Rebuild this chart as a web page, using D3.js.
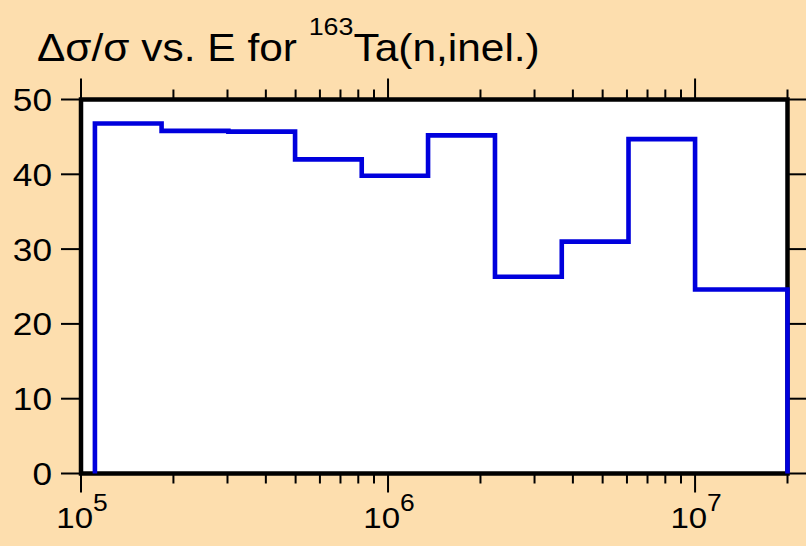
<!DOCTYPE html>
<html>
<head>
<meta charset="utf-8">
<script src="https://cdn.jsdelivr.net/npm/d3@7"></script>
<style>
  body { margin: 0; background: #fddeae; }
  text { font-family: "Liberation Sans", Arial, sans-serif; fill: #000; }
</style>
</head>
<body>
<div id="canvas"></div>
<script>
"use strict"

// bin edges (eV) and relative uncertainty (%) per bin
let binEdges = [1.11e5, 1.83e5, 3.02e5, 4.98e5, 8.21e5, 1.35e6, 2.23e6, 3.68e6, 6.07e6, 1.0e7, 2.0e7]
let binValues = [46.8, 45.8, 45.7, 42.0, 39.8, 45.2, 26.3, 31.0, 44.7, 24.6]

let yTicks = [0, 10, 20, 30, 40, 50]
let xMajorExps = [5, 6, 7]

let width = 806
let height = 546
let plotLeft = 81, plotRight = 787.5, plotTop = 99.5, plotBottom = 473.5
let stretch = 1.1 // text in the original is a little wide

let drawing = d3.select("#canvas")
    .append("svg")
    .attr("width", width)
    .attr("height", height)

drawing.append("rect") // page background
    .attr("width", width)
    .attr("height", height)
    .attr("fill", "#fddeae")

let x = d3.scaleLog().domain([1e5, 2e7]).range([plotLeft, plotRight])
let y = d3.scaleLinear().domain([0, 50]).range([plotBottom, plotTop])

// plot area
drawing.append("rect")
    .attr("x", plotLeft)
    .attr("y", plotTop)
    .attr("width", plotRight - plotLeft)
    .attr("height", plotBottom - plotTop)
    .attr("fill", "white")

// minor ticks for log axis
let minorTicks = []
for (let e = 5; e <= 7; e++) {
    for (let m = 2; m <= 9; m++) {
        let v = m * Math.pow(10, e)
        if (v <= 2e7) minorTicks.push(v)
    }
}
let majorTicks = xMajorExps.map(e => Math.pow(10, e))

// bottom axis ticks (down), top axis ticks (up)
let tickGroup = drawing.append("g").attr("stroke", "black").attr("stroke-width", 2)
minorTicks.forEach(v => {
    tickGroup.append("line").attr("x1", x(v)).attr("x2", x(v)).attr("y1", plotBottom).attr("y2", plotBottom + 10)
    tickGroup.append("line").attr("x1", x(v)).attr("x2", x(v)).attr("y1", plotTop).attr("y2", plotTop - 10)
})
majorTicks.forEach(v => {
    tickGroup.append("line").attr("x1", x(v)).attr("x2", x(v)).attr("y1", plotBottom).attr("y2", plotBottom + 19)
    tickGroup.append("line").attr("x1", x(v)).attr("x2", x(v)).attr("y1", plotTop).attr("y2", plotTop - 21)
})
// y ticks on left (out) and right (out)
yTicks.forEach(v => {
    tickGroup.append("line").attr("x1", plotLeft - 20).attr("x2", plotLeft).attr("y1", y(v)).attr("y2", y(v))
    tickGroup.append("line").attr("x1", plotRight).attr("x2", plotRight + 20).attr("y1", y(v)).attr("y2", y(v))
})

// frame
drawing.append("rect")
    .attr("x", plotLeft)
    .attr("y", plotTop)
    .attr("width", plotRight - plotLeft)
    .attr("height", plotBottom - plotTop)
    .attr("fill", "none")
    .attr("stroke", "black")
    .attr("stroke-width", 4.5)

// y labels
yTicks.forEach(v => {
    drawing.append("text")
        .attr("transform", `translate(52,${y(v)}) scale(${stretch},1)`)
        .attr("dy", "0.36em")
        .attr("text-anchor", "end")
        .attr("font-size", 32)
        .text(v)
})

// x labels 10^n
xMajorExps.forEach(e => {
    let t = drawing.append("text")
        .attr("transform", `translate(${x(Math.pow(10, e)) + 1},528) scale(${stretch},1)`)
        .attr("text-anchor", "middle")
        .attr("font-size", 30)
    t.append("tspan").text("10")
    t.append("tspan").attr("dy", -17).attr("font-size", 24).text(e)
})

// step line
let pts = [[binEdges[0], 0]]
binValues.forEach((v, i) => pts.push([binEdges[i], v]))
pts.push([binEdges[binEdges.length - 1], binValues[binValues.length - 1]])
pts.push([binEdges[binEdges.length - 1], 0])

let stepLine = d3.line()
    .x(d => x(d[0]))
    .y(d => y(d[1]))
    .curve(d3.curveStepAfter)

drawing.append("path")
    .attr("d", stepLine(pts))
    .attr("fill", "none")
    .attr("stroke", "#0000dd")
    .attr("stroke-width", 4.6)
    .attr("stroke-linejoin", "miter")

// title, stretched to span the same width as the original
let title = drawing.append("text")
    .attr("font-size", 38)
title.append("tspan").text("Δσ/σ vs. E for ")
title.append("tspan").attr("dy", -26).attr("font-size", 24).text("163")
title.append("tspan").attr("dy", 26).text("Ta(n,inel.)")
let titleWidth = title.node().getComputedTextLength()
let titleScale = (540 - 37) / titleWidth
title.attr("transform", `translate(37,61) scale(${titleScale},1)`)
</script>
</body>
</html>
